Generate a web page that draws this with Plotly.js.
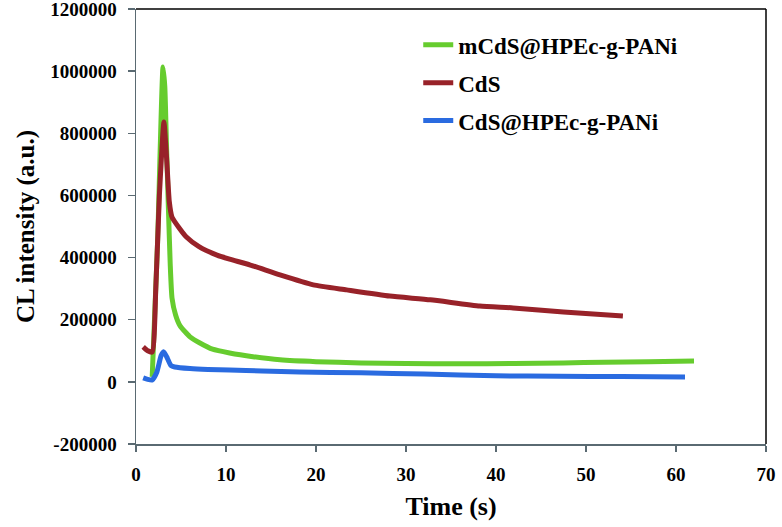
<!DOCTYPE html>
<html>
<head>
<meta charset="utf-8">
<script src="https://cdn.plot.ly/plotly-3.0.1.min.js"></script>
<style>html,body{margin:0;padding:0;background:#fff;}#chart{width:782px;height:527px;}</style>
</head>
<body>
<div id="chart"></div>
<script>
// Series names
const seriesNames = ["mCdS@HPEc-g-PANi", "CdS", "CdS@HPEc-g-PANi"];

// mCdS@HPEc-g-PANi (green)
const greenTime = [1.8, 2.4, 3.0, 3.2, 3.4, 3.6, 3.8, 4.0, 4.4, 4.9, 6.0, 7.1, 8.5, 10.4, 13, 16, 20, 25, 30, 36, 42, 47.5, 52, 57, 62];
const greenCL   = [16000, 450000, 1013000, 950000, 750000, 560000, 380000, 270000, 215000, 180000, 145000, 125000, 105000, 93000, 81000, 71000, 65000, 61000, 59000, 58000, 59000, 61000, 63000, 65000, 67000];

// CdS (dark red)
const redTime = [0.8, 1.3, 1.8, 2.2, 2.6, 3.1, 3.4, 3.7, 4.0, 4.8, 5.6, 7.0, 9.0, 10.4, 12.7, 16, 19.7, 23.4, 28.2, 32.7, 38.2, 41.9, 47.5, 54.1];
const redCL   = [112500, 100000, 96000, 300000, 600000, 836000, 720000, 580000, 530000, 495000, 466000, 435000, 408000, 395000, 376000, 344000, 312000, 296000, 276000, 264000, 244000, 238000, 225000, 212000];

// CdS@HPEc-g-PANi (blue)
const blueTime = [0.8, 1.3, 1.8, 2.3, 2.8, 3.1, 3.5, 3.9, 4.3, 6, 8, 10.4, 14, 18.2, 25, 32, 40, 47, 54, 61];
const blueCL   = [13000, 8000, 6000, 30000, 85000, 96500, 75000, 52000, 48000, 43000, 40000, 38000, 35000, 32000, 29000, 25000, 19500, 18000, 17000, 16000];

// Axis ticks
const xTicks = [0, 10, 20, 30, 40, 50, 60, 70];
const yTicks = [-200000, 0, 200000, 400000, 600000, 800000, 1000000, 1200000];

const colors = ["#66cc2e", "#982229", "#2a6be0"];
const fontFam = "'Liberation Serif', 'Times New Roman', serif";

const traces = [
  {x: greenTime, y: greenCL, name: seriesNames[0], legendgroup: "a"},
  {x: redTime, y: redCL, name: seriesNames[1], legendgroup: "b"},
  {x: blueTime, y: blueCL, name: seriesNames[2], legendgroup: "c"}
].map((t, i) => Object.assign(t, {
  type: "scatter", mode: "lines",
  line: {color: colors[i], width: 5, shape: "spline", smoothing: 0.5}
}));

const layout = {
  width: 782, height: 527,
  margin: {l: 136, r: 16, t: 9, b: 83},
  paper_bgcolor: "#fff", plot_bgcolor: "#fff",
  font: {family: fontFam, color: "#000"},
  showlegend: true,
  legend: {
    x: 0.448, y: 0.967, xanchor: "left", yanchor: "top",
    traceorder: "grouped", tracegroupgap: 5,
    font: {family: fontFam, size: 23, color: "#000", weight: "bold"},
    bgcolor: "rgba(0,0,0,0)", borderwidth: 0
  },
  xaxis: {
    range: [0, 70], tickvals: xTicks, ticktext: xTicks.map(String),
    showgrid: false, zeroline: false,
    showline: true, linecolor: "#5a6a72", linewidth: 1.5,
    ticks: "outside", ticklen: 6, tickcolor: "#5a6a72", tickwidth: 1.5,
    ticklabelstandoff: 7, ticklabeloverflow: "allow",
    tickfont: {family: fontFam, size: 19, weight: "bold", color: "#000"},
    title: {text: "Time (s)", standoff: 12, font: {family: fontFam, size: 26, weight: "bold", color: "#000"}}
  },
  yaxis: {
    range: [-200000, 1200000], tickvals: yTicks, ticktext: yTicks.map(String),
    showgrid: false, zeroline: false,
    showline: true, linecolor: "#5a6a72", linewidth: 1.5,
    ticks: "outside", ticklen: 7, tickcolor: "#5a6a72", tickwidth: 1.5,
    ticklabelstandoff: 7, ticklabeloverflow: "allow",
    tickfont: {family: fontFam, size: 19, weight: "bold", color: "#000"},
    title: {text: "CL intensity (a.u.)", standoff: 8, font: {family: fontFam, size: 25, weight: "bold", color: "#000"}}
  },
  shapes: [
    {type: "line", xref: "paper", yref: "paper", x0: 0, x1: 1, y0: 1, y1: 1, line: {color: "#000", width: 1.5}},
    {type: "line", xref: "paper", yref: "paper", x0: 1, x1: 1, y0: 0, y1: 1, line: {color: "#000", width: 1.5}}
  ]
};

Plotly.newPlot("chart", traces, layout, {displayModeBar: false, staticPlot: true});
</script>
</body>
</html>
